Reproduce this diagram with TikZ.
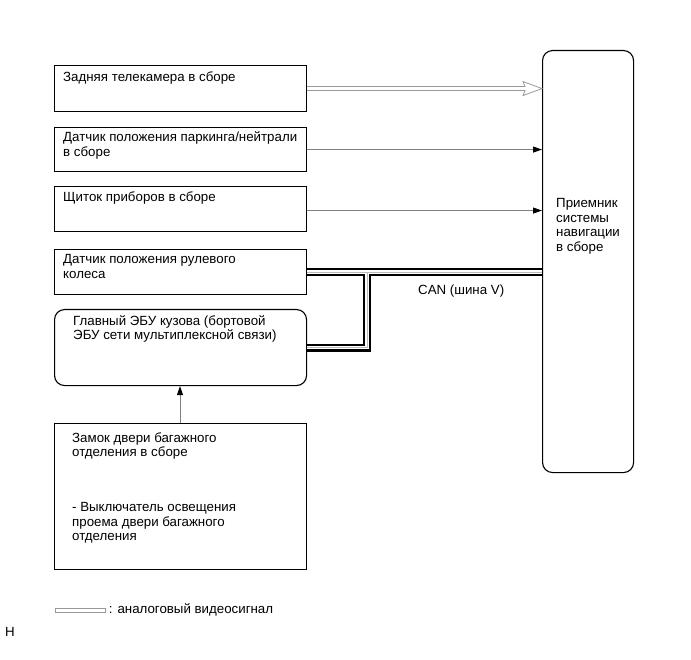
\documentclass[tikz,border=0pt]{standalone}
\usepackage{fontspec}
\setmainfont{Liberation Sans}
\usetikzlibrary{arrows.meta,calc}
\begin{document}
\begin{tikzpicture}[x=1pt,y=-1pt,
  box/.style={draw=black,line width=1.1pt,anchor=north west,inner sep=0pt,minimum width=252pt},
  txt/.style={anchor=north west,inner sep=0pt,align=left,font=\fontsize{13.3}{14.5}\selectfont},
  sig/.style={draw=gray,line width=0.9pt,-{Triangle[length=9pt,width=6pt,color=black]}},
  hollow/.style={draw=gray!80,line width=0.8pt,fill=white,line join=miter},
  bus/.style={line join=miter,line cap=butt}
]
\useasboundingbox (0,0) rectangle (691,660);

% boxes
\node[box,minimum height=46pt] (cam) at (54,65) {};
\node[box,minimum height=44pt] (park) at (54,127) {};
\node[box,minimum height=45pt] (dash) at (54,186) {};
\node[box,minimum height=45pt] (steer) at (54,249) {};
\node[box,minimum height=76pt,rounded corners=10pt] (ecu) at (54,309) {};
\node[box,minimum height=146pt] (lock) at (54,423) {};
\node[box,minimum width=91pt,minimum height=422pt,rounded corners=10pt] (nav) at (542,50) {};

% texts
\node[txt] (camt) at (63,71.5) {Задняя телекамера в сборе};
\node[txt] (parkt) at (63,131.5) {Датчик положения паркинга/нейтрали\\в сборе};
\node[txt] (dasht) at (63,191.5) {Щиток приборов в сборе};
\node[txt] (steert) at (63,254.5) {Датчик положения рулевого\\колеса};
\node[txt] (ecut) at (73,315) {Главный ЭБУ кузова (бортовой\\ЭБУ сети мультиплексной связи)};
\node[txt] (lockt1) at (72,432.5) {Замок двери багажного\\отделения в сборе};
\node[txt] (lockt2) at (72,502.5) {- Выключатель освещения\\проема двери багажного\\отделения};
\node[txt] (navt) at (556,198.5) {Приемник\\системы\\навигации\\в сборе};
\node[txt] (can) at (418,284.5) {CAN (шина V)};

% hollow video arrow
\coordinate (camtip) at (nav.west |- cam.east);
\draw[hollow] ([yshift=2pt]cam.east) -- ($(camtip)+(-17,-2)$) -- ($(camtip)+(-19,-7)$)
  -- (camtip) -- ($(camtip)+(-19,7)$) -- ($(camtip)+(-17,2)$) -- ([yshift=-2pt]cam.east);

% thin arrows
\draw[sig] (park.east) -- (park.east -| nav.west);
\draw[sig] ([yshift=-1.5pt]dash.east) -- ([yshift=-1.5pt]dash.east -| nav.west);
\coordinate (lx) at (180,0);
\draw[sig] (lock.north -| lx) -- (ecu.south -| lx);

% CAN bus
\coordinate (jx) at (367,0);
\foreach \w/\c in {8pt/black,3.4pt/white,0.7pt/gray!55}{
  \draw[bus,line width=\w,draw=\c] (steer.east) -- (steer.east -| nav.west);
  \draw[bus,line width=\w,draw=\c] (steer.east -| jx) -- (ecu.east -| jx) -- (ecu.east);
}

% legend
\node[draw=gray!80,fill=white,line width=0.7pt,minimum width=50pt,minimum height=4pt,inner sep=0pt,anchor=west] (leg) at (55,610) {};
\node[txt,anchor=west] (legt) at ([xshift=3pt]leg.east) {: аналоговый видеосигнал};

\node[txt] (h) at (5,627) {H};
\end{tikzpicture}
\end{document}
